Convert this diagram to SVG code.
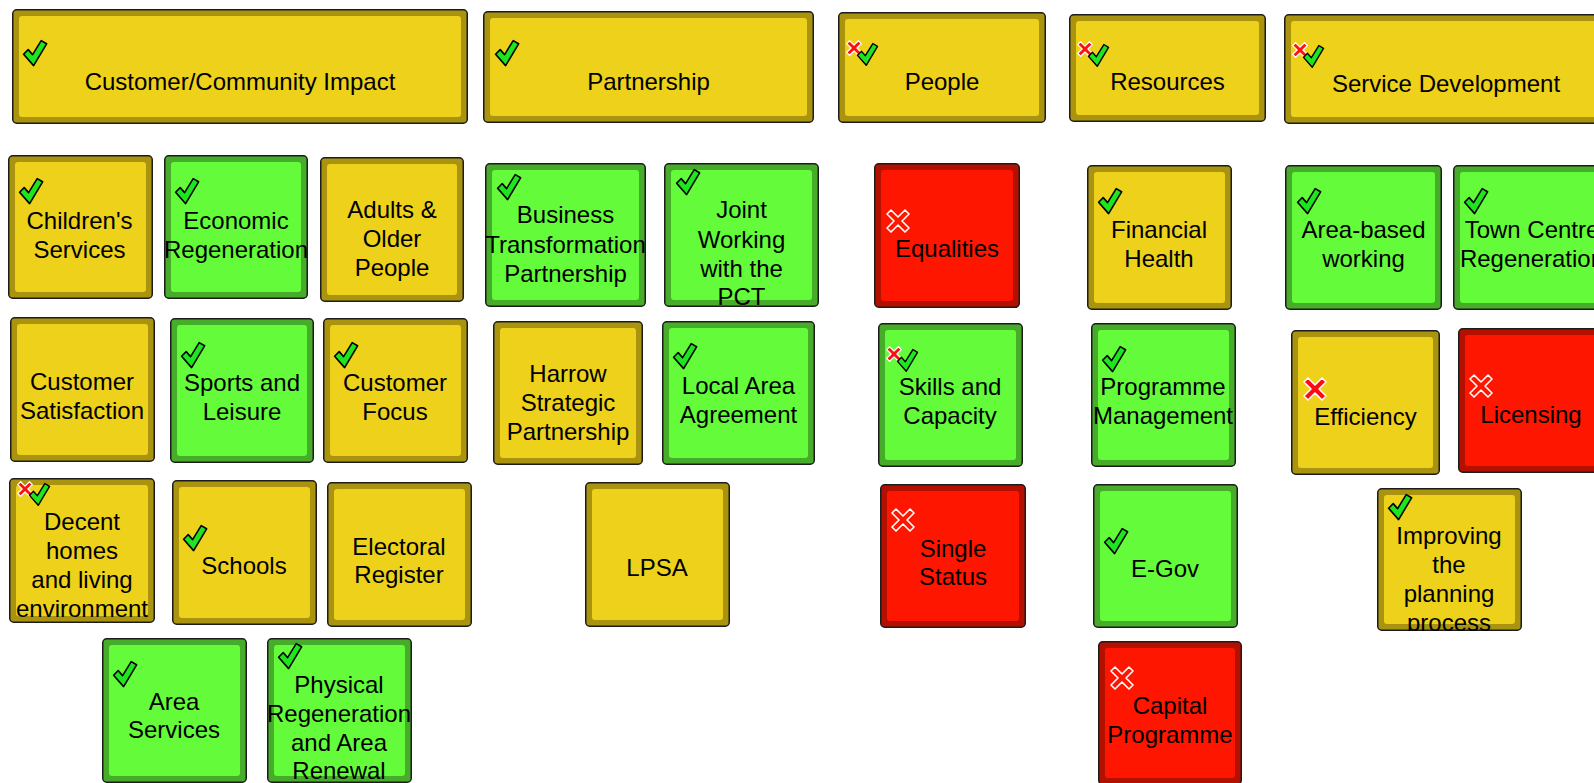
<svg xmlns="http://www.w3.org/2000/svg" xmlns:xlink="http://www.w3.org/1999/xlink" width="1594" height="783" viewBox="0 0 1594 783">
<style>
.o{stroke:#1c1c1c;stroke-width:1.5}
.i{stroke:none}
.Y .o{fill:#A9930F}.Y .i{fill:#EDD11A}
.G .o{fill:#47AC2A}.G .i{fill:#64FC3A}
.R .o{fill:#B31000}.R .i{fill:#FF1600}
text{font-family:"Liberation Sans",Arial,sans-serif;font-size:24px;fill:#000;text-anchor:middle}
</style>
<defs>
<path id="chk" d="M0.6,14.2 L5.2,9.6 L9.6,14.6 L18.2,0.6 L23.6,3.8 L10.6,25.6 Z" fill="#1EE61E" stroke="#000" stroke-width="1.6" stroke-linejoin="round"/>
<path id="xsm" d="M0.7,3.6 L3.6,0.7 L8,5.1 L12.4,0.7 L15.3,3.6 L10.9,8 L15.3,12.4 L12.4,15.3 L8,10.9 L3.6,15.3 L0.7,12.4 L5.1,8 Z" fill="#FF1010" stroke="#fff" stroke-width="1.3" stroke-linejoin="round"/>
<path id="xh" d="M1,5 L5,1 L12,8 L19,1 L23,5 L16,12 L23,19 L19,23 L12,16 L5,23 L1,19 L8,12 Z" fill="none" stroke="#fff" stroke-width="1.6" stroke-linejoin="round"/>
<path id="xs" d="M1,5 L5,1 L12,8 L19,1 L23,5 L16,12 L23,19 L19,23 L12,16 L5,23 L1,19 L8,12 Z" fill="#FF0A14" stroke="#fff" stroke-width="1.5" stroke-linejoin="round"/>
</defs>
<rect width="1594" height="783" fill="#fff"/>
<g id="connectors"/>

<g id="n-cci" class="Y"><svg x="12" y="9" width="456" height="115"><rect class="o" x=".75" y=".75" width="454.5" height="113.5" rx="4"/><rect class="i" x="7" y="7" width="442" height="101" rx="3"/><use href="#chk" x="11" y="31"/><text x="228" y="81">Customer/Community Impact</text></svg></g>
<g id="n-partnership" class="Y"><svg x="483" y="11" width="331" height="112"><rect class="o" x=".75" y=".75" width="329.5" height="110.5" rx="4"/><rect class="i" x="7" y="7" width="317" height="98" rx="3"/><use href="#chk" x="12" y="29"/><text x="165.5" y="79">Partnership</text></svg></g>
<g id="n-people" class="Y"><svg x="838" y="12" width="208" height="111"><rect class="o" x=".75" y=".75" width="206.5" height="109.5" rx="4"/><rect class="i" x="7" y="7" width="194" height="97" rx="3"/><use href="#xsm" x="8" y="28"/><use href="#chk" transform="translate(19,31) scale(0.87)"/><text x="104" y="78">People</text></svg></g>
<g id="n-resources" class="Y"><svg x="1069" y="14" width="197" height="108"><rect class="o" x=".75" y=".75" width="195.5" height="106.5" rx="4"/><rect class="i" x="7" y="7" width="183" height="94" rx="3"/><use href="#xsm" x="8" y="27"/><use href="#chk" transform="translate(19,30) scale(0.87)"/><text x="98.5" y="76">Resources</text></svg></g>
<g id="n-servdev" class="Y"><svg x="1284" y="14" width="325" height="110"><rect class="o" x=".75" y=".75" width="323.5" height="108.5" rx="4"/><rect class="i" x="7" y="7" width="311" height="96" rx="3"/><use href="#xsm" x="8" y="28"/><use href="#chk" transform="translate(19,31) scale(0.87)"/><text x="162" y="78">Service Development</text></svg></g>

<g id="n-childrens" class="Y"><svg x="8" y="155" width="145" height="144"><rect class="o" x=".75" y=".75" width="143.5" height="142.5" rx="4"/><rect class="i" x="7" y="7" width="131" height="130" rx="3"/><use href="#chk" x="11" y="23"/><text x="71.5" y="74">Children's</text><text x="71.5" y="103">Services</text></svg></g>
<g id="n-economic" class="G"><svg x="164" y="155" width="144" height="144"><rect class="o" x=".75" y=".75" width="142.5" height="142.5" rx="4"/><rect class="i" x="7" y="7" width="130" height="130" rx="3"/><use href="#chk" x="11" y="23"/><text x="72" y="74">Economic</text><text x="72" y="103">Regeneration</text></svg></g>
<g id="n-adults" class="Y"><svg x="320" y="157" width="144" height="145"><rect class="o" x=".75" y=".75" width="142.5" height="143.5" rx="4"/><rect class="i" x="7" y="7" width="130" height="131" rx="3"/><text x="72" y="61">Adults &amp;</text><text x="72" y="90">Older</text><text x="72" y="119">People</text></svg></g>
<g id="n-custsat" class="Y"><svg x="10" y="317" width="145" height="145"><rect class="o" x=".75" y=".75" width="143.5" height="143.5" rx="4"/><rect class="i" x="7" y="7" width="131" height="131" rx="3"/><text x="72" y="73">Customer</text><text x="72" y="102">Satisfaction</text></svg></g>
<g id="n-sports" class="G"><svg x="170" y="318" width="144" height="145"><rect class="o" x=".75" y=".75" width="142.5" height="143.5" rx="4"/><rect class="i" x="7" y="7" width="130" height="131" rx="3"/><use href="#chk" x="11" y="24"/><text x="72" y="73">Sports and</text><text x="72" y="102">Leisure</text></svg></g>
<g id="n-custfocus" class="Y"><svg x="323" y="318" width="145" height="145"><rect class="o" x=".75" y=".75" width="143.5" height="143.5" rx="4"/><rect class="i" x="7" y="7" width="131" height="131" rx="3"/><use href="#chk" x="11" y="24"/><text x="72" y="73">Customer</text><text x="72" y="102">Focus</text></svg></g>
<g id="n-decent" class="Y"><svg x="9" y="478" width="146" height="145"><rect class="o" x=".75" y=".75" width="144.5" height="143.5" rx="4"/><rect class="i" x="7" y="7" width="132" height="131" rx="3"/><use href="#xsm" x="8" y="3"/><use href="#chk" transform="translate(20,5) scale(0.87)"/><text x="73" y="52">Decent</text><text x="73" y="81">homes</text><text x="73" y="110">and living</text><text x="73" y="139">environment</text></svg></g>
<g id="n-schools" class="Y"><svg x="172" y="480" width="145" height="145"><rect class="o" x=".75" y=".75" width="143.5" height="143.5" rx="4"/><rect class="i" x="7" y="7" width="131" height="131" rx="3"/><use href="#chk" x="11" y="45"/><text x="72" y="94">Schools</text></svg></g>
<g id="n-electoral" class="Y"><svg x="327" y="482" width="145" height="145"><rect class="o" x=".75" y=".75" width="143.5" height="143.5" rx="4"/><rect class="i" x="7" y="7" width="131" height="131" rx="3"/><text x="72" y="73">Electoral</text><text x="72" y="101">Register</text></svg></g>
<g id="n-areaserv" class="G"><svg x="102" y="638" width="145" height="145"><rect class="o" x=".75" y=".75" width="143.5" height="143.5" rx="4"/><rect class="i" x="7" y="7" width="131" height="131" rx="3"/><use href="#chk" x="11" y="23"/><text x="72" y="72">Area</text><text x="72" y="100">Services</text></svg></g>
<g id="n-physical" class="G"><svg x="267" y="638" width="145" height="145"><rect class="o" x=".75" y=".75" width="143.5" height="143.5" rx="4"/><rect class="i" x="7" y="7" width="131" height="131" rx="3"/><use href="#chk" x="11" y="5"/><text x="72" y="55">Physical</text><text x="72" y="84">Regeneration</text><text x="72" y="113">and Area</text><text x="72" y="141">Renewal</text></svg></g>

<g id="n-business" class="G"><svg x="485" y="163" width="161" height="144"><rect class="o" x=".75" y=".75" width="159.5" height="142.5" rx="4"/><rect class="i" x="7" y="7" width="147" height="130" rx="3"/><use href="#chk" x="12" y="11"/><text x="80.5" y="60">Business</text><text x="80.5" y="90">Transformation</text><text x="80.5" y="119">Partnership</text></svg></g>
<g id="n-joint" class="G"><svg x="664" y="163" width="155" height="144"><rect class="o" x=".75" y=".75" width="153.5" height="142.5" rx="4"/><rect class="i" x="7" y="7" width="141" height="130" rx="3"/><use href="#chk" x="12" y="6"/><text x="77.5" y="55">Joint</text><text x="77.5" y="85">Working</text><text x="77.5" y="114">with the</text><text x="77.5" y="142">PCT</text></svg></g>
<g id="n-harrow" class="Y"><svg x="493" y="321" width="150" height="144"><rect class="o" x=".75" y=".75" width="148.5" height="142.5" rx="4"/><rect class="i" x="7" y="7" width="136" height="130" rx="3"/><text x="75" y="61">Harrow</text><text x="75" y="90">Strategic</text><text x="75" y="119">Partnership</text></svg></g>
<g id="n-localarea" class="G"><svg x="662" y="321" width="153" height="144"><rect class="o" x=".75" y=".75" width="151.5" height="142.5" rx="4"/><rect class="i" x="7" y="7" width="139" height="130" rx="3"/><use href="#chk" x="11" y="22"/><text x="76.5" y="73">Local Area</text><text x="76.5" y="102">Agreement</text></svg></g>
<g id="n-lpsa" class="Y"><svg x="585" y="482" width="145" height="145"><rect class="o" x=".75" y=".75" width="143.5" height="143.5" rx="4"/><rect class="i" x="7" y="7" width="131" height="131" rx="3"/><text x="72" y="94">LPSA</text></svg></g>

<g id="n-equalities" class="R"><svg x="874" y="163" width="146" height="145"><rect class="o" x=".75" y=".75" width="144.5" height="143.5" rx="4"/><rect class="i" x="7" y="7" width="132" height="131" rx="3"/><use href="#xh" x="12" y="46"/><text x="73" y="94">Equalities</text></svg></g>
<g id="n-skills" class="G"><svg x="878" y="323" width="145" height="144"><rect class="o" x=".75" y=".75" width="143.5" height="142.5" rx="4"/><rect class="i" x="7" y="7" width="131" height="130" rx="3"/><use href="#xsm" x="8" y="23"/><use href="#chk" transform="translate(19,26) scale(0.87)"/><text x="72" y="72">Skills and</text><text x="72" y="101">Capacity</text></svg></g>
<g id="n-singlestatus" class="R"><svg x="880" y="484" width="146" height="144"><rect class="o" x=".75" y=".75" width="144.5" height="142.5" rx="4"/><rect class="i" x="7" y="7" width="132" height="130" rx="3"/><use href="#xh" x="11" y="24"/><text x="73" y="73">Single</text><text x="73" y="101">Status</text></svg></g>

<g id="n-financial" class="Y"><svg x="1087" y="165" width="145" height="145"><rect class="o" x=".75" y=".75" width="143.5" height="143.5" rx="4"/><rect class="i" x="7" y="7" width="131" height="131" rx="3"/><use href="#chk" x="11" y="23"/><text x="72" y="73">Financial</text><text x="72" y="102">Health</text></svg></g>
<g id="n-progmgmt" class="G"><svg x="1091" y="323" width="145" height="144"><rect class="o" x=".75" y=".75" width="143.5" height="142.5" rx="4"/><rect class="i" x="7" y="7" width="131" height="130" rx="3"/><use href="#chk" x="11" y="23"/><text x="72" y="72">Programme</text><text x="72" y="101">Management</text></svg></g>
<g id="n-egov" class="G"><svg x="1093" y="484" width="145" height="144"><rect class="o" x=".75" y=".75" width="143.5" height="142.5" rx="4"/><rect class="i" x="7" y="7" width="131" height="130" rx="3"/><use href="#chk" x="11" y="44"/><text x="72" y="93">E-Gov</text></svg></g>
<g id="n-capital" class="R"><svg x="1098" y="641" width="144" height="144"><rect class="o" x=".75" y=".75" width="142.5" height="142.5" rx="4"/><rect class="i" x="7" y="7" width="130" height="130" rx="3"/><use href="#xh" x="12" y="25"/><text x="72" y="73">Capital</text><text x="72" y="102">Programme</text></svg></g>

<g id="n-areabased" class="G"><svg x="1285" y="165" width="157" height="145"><rect class="o" x=".75" y=".75" width="155.5" height="143.5" rx="4"/><rect class="i" x="7" y="7" width="143" height="131" rx="3"/><use href="#chk" x="12" y="23"/><text x="78.5" y="73">Area-based</text><text x="78.5" y="102">working</text></svg></g>
<g id="n-towncentre" class="G"><svg x="1453" y="165" width="158" height="145"><rect class="o" x=".75" y=".75" width="156.5" height="143.5" rx="4"/><rect class="i" x="7" y="7" width="144" height="131" rx="3"/><use href="#chk" x="11" y="23"/><text x="79" y="73">Town Centre</text><text x="79" y="102">Regeneration</text></svg></g>
<g id="n-efficiency" class="Y"><svg x="1291" y="330" width="149" height="145"><rect class="o" x=".75" y=".75" width="147.5" height="143.5" rx="4"/><rect class="i" x="7" y="7" width="135" height="131" rx="3"/><use href="#xs" x="12" y="47"/><text x="74.5" y="95">Efficiency</text></svg></g>
<g id="n-licensing" class="R"><svg x="1458" y="328" width="146" height="145"><rect class="o" x=".75" y=".75" width="144.5" height="143.5" rx="4"/><rect class="i" x="7" y="7" width="132" height="131" rx="3"/><use href="#xh" x="11" y="46"/><text x="73" y="95">Licensing</text></svg></g>
<g id="n-improving" class="Y"><svg x="1377" y="488" width="145" height="143"><rect class="o" x=".75" y=".75" width="143.5" height="141.5" rx="4"/><rect class="i" x="7" y="7" width="131" height="129" rx="3"/><use href="#chk" x="11" y="6"/><text x="72" y="56">Improving</text><text x="72" y="85">the</text><text x="72" y="114">planning</text><text x="72" y="143">process</text></svg></g>
</svg>
